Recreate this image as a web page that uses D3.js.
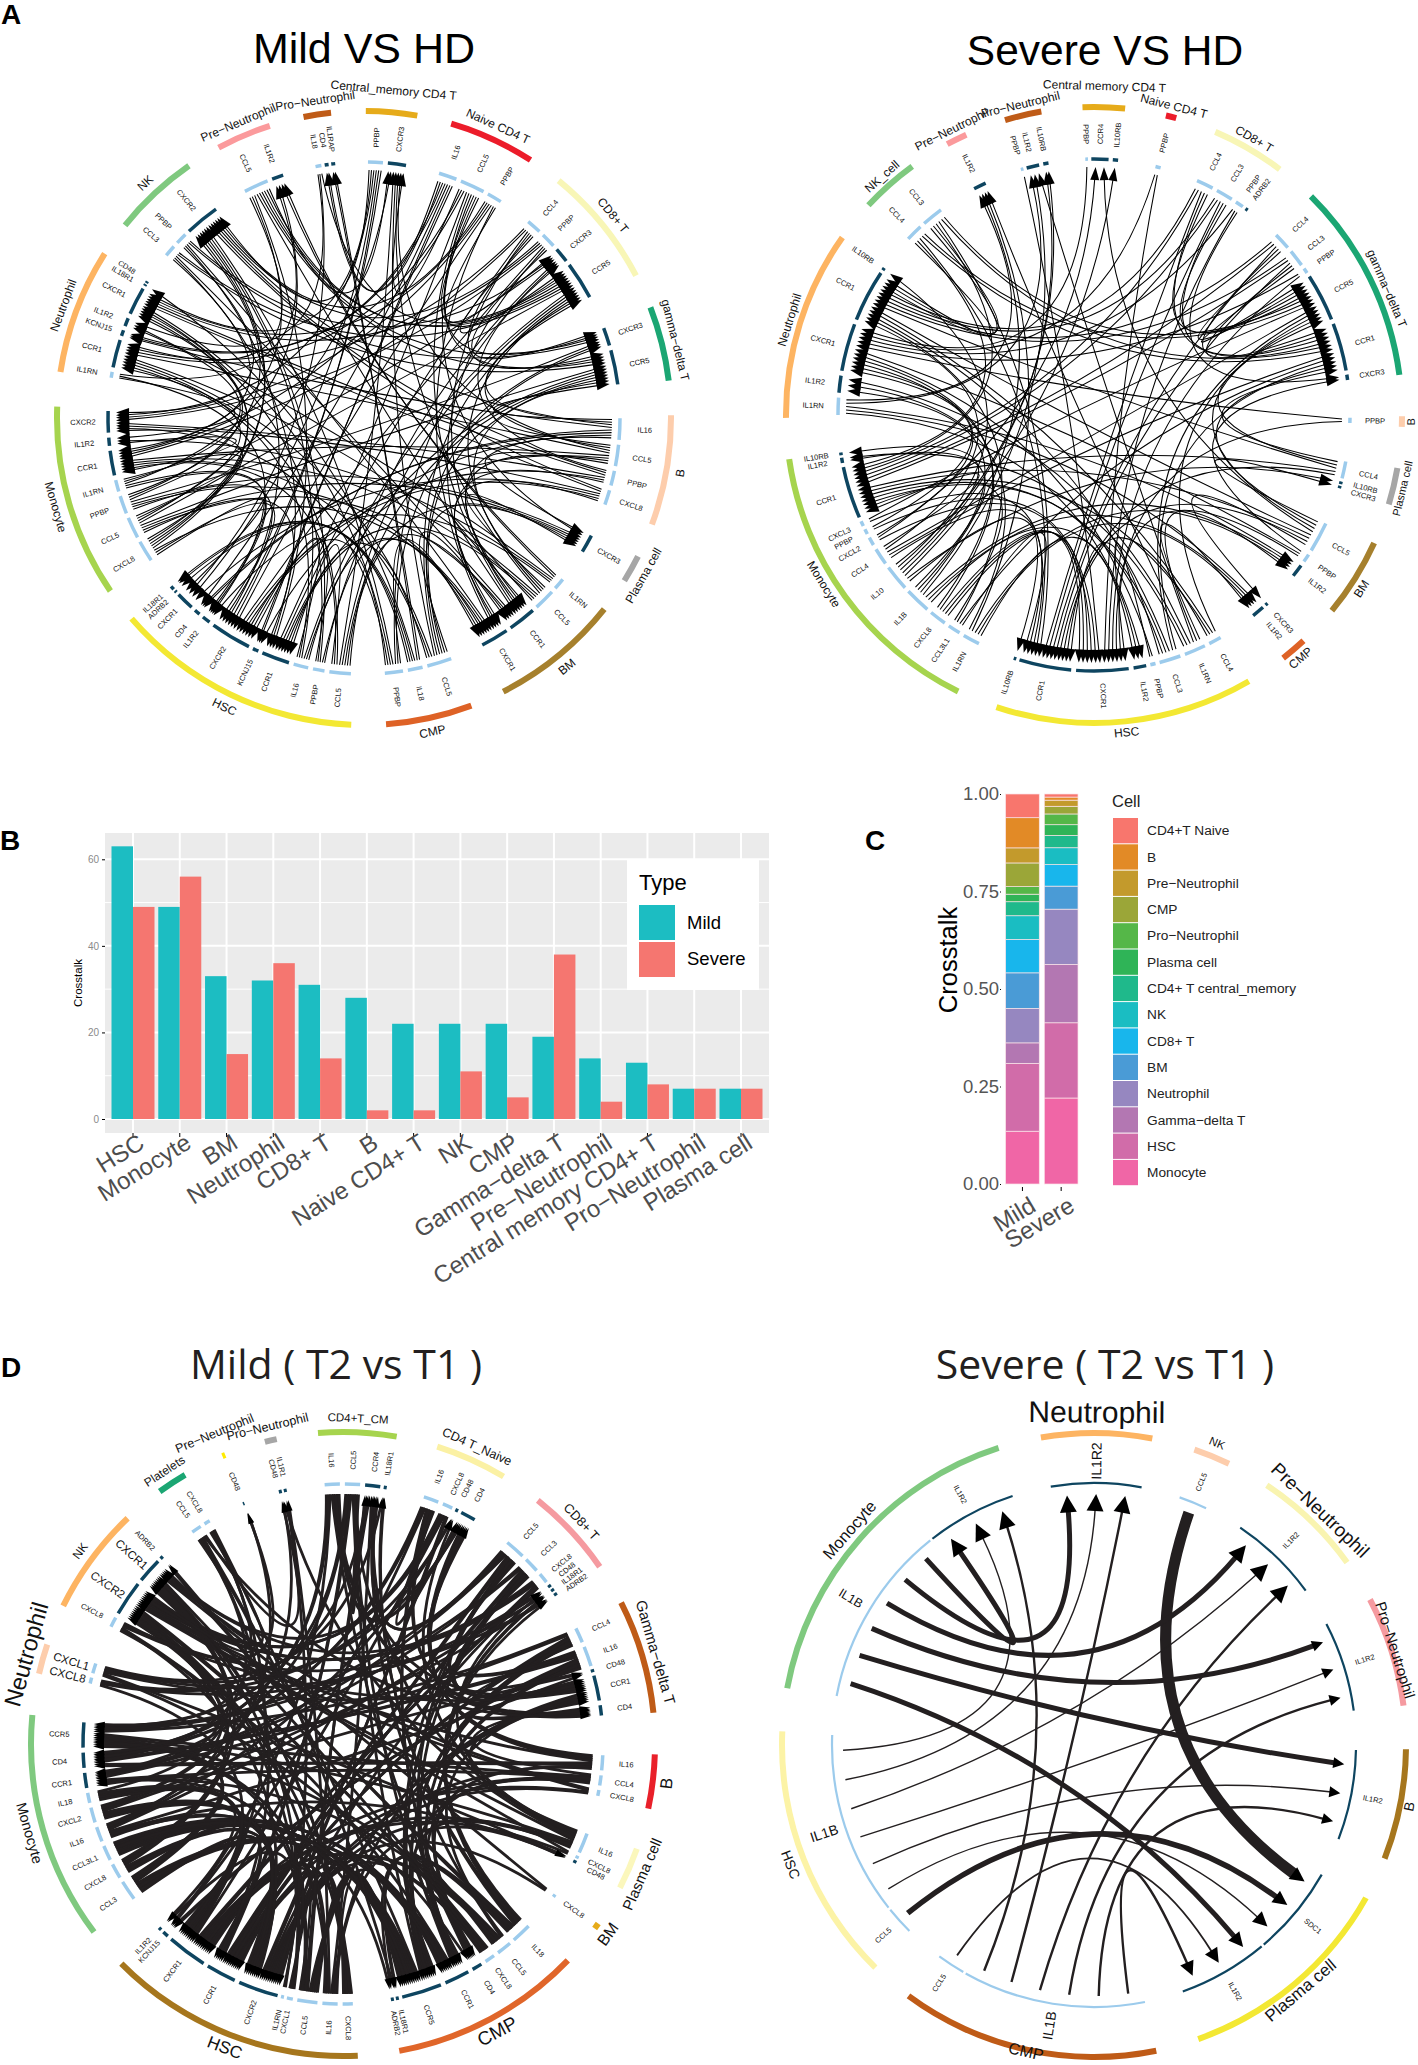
<!DOCTYPE html>
<html><head><meta charset="utf-8">
<script src="https://cdn.jsdelivr.net/npm/d3@7/dist/d3.min.js"></script>
<style>html,body{margin:0;padding:0;background:#fff}svg{display:block}text{font-family:"Liberation Sans",Arial,sans-serif}</style>
</head><body><svg id="fig" width="1418" height="2065"></svg>
<script>
// ---------- panels B and C ----------
const barCells = ["HSC","Monocyte","BM","Neutrophil","CD8+ T","B","Naive CD4+ T","NK","CMP","Gamma−delta T","Pre−Neutrophil","Central memory CD4+ T","Pro−Neutrophil","Plasma cell"];
const mildCrosstalk = [63,49,33,32,31,28,22,22,22,19,14,13,7,7];
const severeCrosstalk = [49,56,15,36,14,2,2,11,5,38,4,8,7,7];
const yTicksB = [0,20,40,60];
const stackCells = ["CD4+T Naive","B","Pre−Neutrophil","CMP","Pro−Neutrophil","Plasma cell","CD4+ T central_memory","NK","CD8+ T","BM","Neutrophil","Gamma−delta T","HSC","Monocyte"];
const stackSource = ["Naive CD4+ T","B","Pre−Neutrophil","CMP","Pro−Neutrophil","Plasma cell","Central memory CD4+ T","NK","CD8+ T","BM","Neutrophil","Gamma−delta T","HSC","Monocyte"];
const stackColors = ["#F8766D","#E28A26","#C39A2C","#9BA638","#55B748","#2FB457","#1FB98B","#1ABDC2","#18B6EC","#4A9BD6","#9687C0","#B377B2","#D16CA9","#F066A6"];
const yTicksC = [0,0.25,0.5,0.75,1];

// ---------- chord diagrams: cells clockwise, genes clockwise with link counts ----------
const hdMildCells = ["Naive CD4 T","CD8+ T","gamma−delta T","B","Plasma cell","BM","CMP","HSC","Monocyte","Neutrophil","NK","Pre−Neutrophil","Pro−Neutrophil","Central_memory CD4 T"];
const hdMildColors = ["#EC1C2A","#F8F6B6","#1BA673","#FDCDAC","#A6A6A6","#A6802D","#DE6226","#F3E833","#A6D44E","#FDB462","#7FC97F","#FB9A9C","#BF5B17","#E6AB1A"];
const hdMildGenes = [
 [["IL16",7],["CCL5",9],["PPBP",6]],
 [["CCL4",6],["PPBP",6],["CXCR3",6],["CCR5",13]],
 [["CXCR3",7],["CCR5",12]],
 [["IL16",8],["CCL5",8],["PPBP",6],["CXCL8",6]],
 [["CXCR3",7]],
 [["IL1RN",5],["CCL5",8],["CCR1",10],["CXCR1",10]],
 [["CCL5",9],["IL18",6],["PPBP",7]],
 [["CCL5",8],["PPBP",5],["IL16",6],["CCR1",10],["KCNJ15",3],["CXCR2",14],["IL1R2",4],["CD4",3],["CXCR1",7],["ADRB2",1],["IL18R1",2]],
 [["CXCL8",8],["CCL5",8],["PPBP",7],["IL1RN",5],["CCR1",9],["IL1R2",4],["CXCR2",8]],
 [["IL1RN",3],["CCR1",10],["KCNJ15",3],["IL1R2",4],["CXCR1",10],["IL18R1",1],["CD48",1]],
 [["CCL3",5],["PPBP",5],["CXCR2",12]],
 [["CCL5",9],["IL1R2",5]],
 [["IL18",3],["CD4",2],["IL1RAP",2]],
 [["PPBP",6],["CXCR3",7]]
];
const hdSevereCells = ["Naive CD4 T","CD8+ T","gamma−delta T","B","Plasma cell","BM","CMP","HSC","Monocyte","Neutrophil","NK_cell","Pre−Neutrophil","Pro−Neutrophil","Central memory CD4 T"];
const hdSevereColors = hdMildColors;
const hdSevereGenes = [
 [["PPBP",2]],
 [["CCL4",5],["CCL3",5],["PPBP",3],["ADRB2",1]],
 [["CCL4",5],["CCL3",5],["PPBP",2],["CCR5",12],["CCR1",12],["CXCR3",2]],
 [["PPBP",2]],
 [["CCL4",5],["IL10RB",1],["CXCR3",1]],
 [["CCL5",8],["PPBP",3],["IL1R2",4]],
 [["CXCR3",1],["IL1R2",4]],
 [["CCL4",4],["IL1RN",6],["CCL3",6],["PPBP",2],["IL1R2",4],["CXCR1",13],["CCR1",13],["IL10RB",1]],
 [["IL1RN",5],["CCL3L1",4],["CXCL8",5],["IL1B",7],["IL10",7],["CCL4",5],["CXCL2",3],["PPBP",2],["CXCL3",2],["CCR1",13],["IL1R2",2],["IL10RB",1]],
 [["IL1RN",5],["IL1R2",5],["CXCR1",12],["CCR1",13],["IL10RB",1]],
 [["CCL4",5],["CCL3",6]],
 [["IL1R2",4]],
 [["PPBP",1],["IL1R2",4],["IL10RB",2]],
 [["PPBP",1],["CCR4",5],["IL10RB",2]]
];
const t2MildCells = ["CD4+T_CM","CD4 T_Naive","CD8+ T","Gamma−delta T","B","Plasma cell","BM","CMP","HSC","Monocyte","Neutrophil","NK","Platelets","Pre−Neutrophil","Pro−Neutrophil"];
const t2MildColors = ["#A6D44E","#FBF1A4","#F59AA0","#BF5B17","#E9202A","#FBF7BC","#E6AB1A","#E0662A","#A6761D","#7FC97F","#FDCDAC","#FDB462","#1BA673","#FFEB00","#A6A6A6"];
const t2MildGenes = [
 [["IL16",8],["CCL5",8],["CCR4",8],["IL18R1",2]],
 [["IL16",8],["CXCL8",6],["CD48",2],["CD4",8]],
 [["CCL5",10],["CCL3",8],["CXCL8",6],["CD48",2],["IL18R1",2],["ADRB2",2]],
 [["CCL4",8],["IL16",10],["CD48",2],["CCR1",12],["CD4",6]],
 [["IL16",8],["CCL4",6],["CXCL8",4]],
 [["IL16",10],["CXCL8",2],["CD48",2]],
 [["CXCL8",2]],
 [["IL18",10],["CCL5",8],["CXCL8",6],["CD4",6],["CCR1",12],["CCR5",18],["IL18R1",2],["ADRB2",2]],
 [["CXCL8",6],["IL16",8],["CCL5",10],["CXCL1",4],["IL1RN",2],["CXCR2",18],["CCR1",14],["CXCR1",18],["KCNJ15",4],["IL1R2",2]],
 [["CCL3",10],["CXCL8",8],["CCL3L1",8],["IL16",8],["CXCL2",8],["IL18",6],["CCR1",8],["CD4",8],["CCR5",12]],
 [["CXCL8",4],["CXCL1",6]],
 [["CXCL8",6],["CXCR2",16],["CXCR1",12],["ADRB2",2]],
 [["CCL5",6],["CXCL8",4]],
 [["CD48",1]],
 [["CD48",2],["IL1R1",2]]
];
const t2SevereCells = ["Neutrophil","NK","Pre−Neutrophil","Pro−Neutrophil","B","Plasma cell","CMP","HSC","Monocyte"];
const t2SevereColors = ["#FDB462","#FDCDAC","#F9F4B0","#F59AA0","#A6761D","#F3E833","#BF5B17","#FCF3A6","#7FC97F"];
const t2SevereGenes = [
 [["IL1R2",3]],
 [["CCL5",1]],
 [["IL1R2",3]],
 [["IL1R2",3]],
 [["IL1R2",3]],
 [["SDC1",3],["IL1R2",3]],
 [["IL1B",6],["CCL5",1]],
 [["CCL5",1],["IL1B",6]],
 [["IL1B",6],["IL1R2",3]]
];
// ligand cell, ligand gene, slot -> receptor cell, receptor gene, slot, link strength
const t2SevereLinks = [
 ["NK","CCL5",0,"Plasma cell","SDC1",0,11],
 ["Monocyte","IL1B",0,"Plasma cell","IL1R2",0,5],
 ["Monocyte","IL1B",1,"B","IL1R2",0,5],
 ["Monocyte","IL1B",2,"Pro−Neutrophil","IL1R2",0,5],
 ["Monocyte","IL1B",3,"Pre−Neutrophil","IL1R2",0,5],
 ["Monocyte","IL1B",4,"Neutrophil","IL1R2",0,5],
 ["Monocyte","IL1B",5,"Monocyte","IL1R2",0,5],
 ["HSC","CCL5",0,"Plasma cell","SDC1",1,5.5],
 ["HSC","IL1B",0,"Plasma cell","SDC1",2,1.4],
 ["HSC","IL1B",1,"B","IL1R2",1,1.4],
 ["HSC","IL1B",2,"Pro−Neutrophil","IL1R2",1,1.4],
 ["HSC","IL1B",3,"Pre−Neutrophil","IL1R2",1,1.4],
 ["HSC","IL1B",4,"Neutrophil","IL1R2",1,1.4],
 ["HSC","IL1B",5,"Monocyte","IL1R2",1,1.4],
 ["CMP","CCL5",0,"Plasma cell","IL1R2",1,1.8],
 ["CMP","IL1B",0,"Plasma cell","IL1R2",2,2.4],
 ["CMP","IL1B",1,"B","IL1R2",2,2.4],
 ["CMP","IL1B",2,"Pro−Neutrophil","IL1R2",2,2.4],
 ["CMP","IL1B",3,"Pre−Neutrophil","IL1R2",2,2.4],
 ["CMP","IL1B",4,"Neutrophil","IL1R2",2,2.4],
 ["CMP","IL1B",5,"Monocyte","IL1R2",2,2.4]
];
const receptorGenes = ["CXCR1","CXCR2","CXCR3","CCR1","CCR4","CCR5","IL1R1","IL1R2","IL1RAP","IL10RB","IL18R1","CD4","CD48","ADRB2","KCNJ15","SDC1"];
// which receptor each ligand signals through, used to pair up the link ends of the dense panels
const ligandReceptors = {
 CCL5:["CCR1","CCR5","CCR4","CXCR3"],CCL3:["CCR1","CCR5"],CCL3L1:["CCR1","CCR5"],CCL4:["CCR1","CCR5"],
 PPBP:["CXCR1","CXCR2","CXCR3"],CXCL8:["CXCR1","CXCR2"],CXCL1:["CXCR1","CXCR2"],CXCL2:["CXCR2"],CXCL3:["CXCR2"],
 IL16:["CD4","KCNJ15"],IL18:["IL18R1","IL1RAP","ADRB2"],IL1RN:["IL1R2","IL1R1"],IL1B:["IL1R2","IL1RAP"],IL10:["IL10RB"]
};

const svg = d3.select("#fig");
const DARK="#231F20", LIGAND="#9CCBEC", RECEPTOR="#0E4560";
const rad = a => a*Math.PI/180;

function chord(o){
  const g = svg.append("g").attr("transform",`translate(${o.cx},${o.cy})`);
  const pt = (a,r)=>[r*Math.sin(rad(a)),-r*Math.cos(rad(a))];
  const total = d3.sum(o.genes,s=>d3.sum(s,x=>x[1]));
  const k = (360-o.gap*o.cells.length)/total;
  let cursor = o.start, cellsOut=[], ends=[];
  o.cells.forEach((name,i)=>{
    const count=d3.sum(o.genes[i],x=>x[1]);
    const a0=cursor,a1=cursor+count*k;
    const sc=d3.scaleLinear().domain([0,count]).range([a0,a1]);
    let c=0;
    const gs=o.genes[i].map(([gene,n])=>{
      const half=Math.min(o.geneGap/2,n*k*0.2);
      const rec={cell:name,cellIdx:i,gene,n,a0:sc(c)+half,a1:sc(c+n)-half,isRec:receptorGenes.includes(gene),links:[]};
      rec.labelAngle=(rec.a0+rec.a1)/2;
      c+=n;ends.push(rec);return rec;
    });
    // keep the gene names of one cell from printing on top of each other
    const minSep=(o.labelSep||8)/o.rGeneLabel*180/Math.PI;
    for(let it=0;it<30;it++){
      for(let j=0;j+1<gs.length;j++){
        const d=gs[j+1].labelAngle-gs[j].labelAngle;
        if(d<minSep){gs[j].labelAngle-=(minSep-d)/2;gs[j+1].labelAngle+=(minSep-d)/2;}
      }
    }
    cellsOut.push({name,a0,a1,color:o.colors[i],gs});
    cursor=a1+o.gap;
  });
  // tracks
  const arc=(r,w)=>d3.arc().innerRadius(r-w/2).outerRadius(r+w/2);
  g.selectAll("path.cell").data(cellsOut).join("path").attr("class","cell")
    .attr("d",d=>arc(o.rCell,o.wCell)({startAngle:rad(d.a0),endAngle:rad(d.a1)})).attr("fill",d=>d.color);
  g.selectAll("path.gene").data(ends).join("path").attr("class","gene")
    .attr("d",d=>arc(o.rGene,o.wGene)({startAngle:rad(d.a0),endAngle:rad(d.a1)})).attr("fill",d=>d.isRec?RECEPTOR:LIGAND);
  // link list
  let links=[];
  if(o.links){
    o.links.forEach(l=>{
      const a=ends.find(e=>e.cell===l[0]&&e.gene===l[1]);
      const b=ends.find(e=>e.cell===l[3]&&e.gene===l[4]);
      links.push({a,b,sa:l[2],sb:l[5],w:l[6]});
    });
    links.forEach(l=>{l.aAngle=l.a.a0+(l.sa+.5)/l.a.n*(l.a.a1-l.a.a0);l.bAngle=l.b.a0+(l.sb+.5)/l.b.n*(l.b.a1-l.b.a0);});
  } else {
    const recs=ends.filter(e=>e.isRec).map(e=>({e,left:e.n}));
    ends.filter(e=>!e.isRec).forEach(lig=>{
      const usedGene=new Map(),usedCell=new Map();
      for(let i=0;i<lig.n;i++){
        const allowed=ligandReceptors[lig.gene]||[];
        let pool=recs.filter(r=>allowed.includes(r.e.gene)&&r.left>0);
        if(!pool.length) pool=recs.filter(r=>r.left>0);
        if(!pool.length) pool=recs;
        const best=d3.greatest(pool,r=>r.left-(usedGene.get(r)||0)*100-(usedCell.get(r.e.cell)||0)*10-(r.e.cellIdx===lig.cellIdx?5:0));
        best.left--;
        usedGene.set(best,(usedGene.get(best)||0)+1);
        usedCell.set(best.e.cell,(usedCell.get(best.e.cell)||0)+1);
        const l={a:lig,b:best.e,w:o.linkWidth};
        lig.links.push(l);best.e.links.push(l);links.push(l);
      }
    });
    // spread ends over each gene arc, ordered so links of one gene do not cross at the rim
    ends.forEach(e=>{
      const mid=(e.a0+e.a1)/2;
      const partner=l=>{const p=(l.a===e?l.b:l.a);return ((p.a0+p.a1)/2-mid+360)%360;};
      const sorted=e.links.slice().sort((x,y)=>partner(y)-partner(x));
      sorted.forEach((l,i)=>{const ang=e.a0+(i+.5)/sorted.length*(e.a1-e.a0);if(l.a===e)l.aAngle=ang;else l.bAngle=ang;});
    });
  }
  const linkG=g.append("g");
  const cr=o.rLink*o.bend;
  links.forEach(l=>{
    const from=pt(l.aAngle,o.rLink), to=pt(l.bAngle,o.rLink);
    let diff=((l.bAngle-l.aAngle+540)%360)-180;
    const c=pt(l.aAngle+diff/2,cr);
    const dx=to[0]-c[0],dy=to[1]-c[1],len=Math.hypot(dx,dy),ux=dx/len,uy=dy/len;
    const sc=(o.arrowBy&&o.arrowBy[l.b.cell])||1;
    const L=o.arrowLen*sc,W=o.arrowWidth*sc;
    const bx=to[0]-ux*L*0.8,by=to[1]-uy*L*0.8;
    const p=d3.path();p.moveTo(from[0],from[1]);p.quadraticCurveTo(c[0],c[1],bx,by);
    linkG.append("path").attr("d",p.toString()).attr("fill","none").attr("stroke",o.linkColor).attr("stroke-width",l.w);
    const tx=to[0]-ux*L,ty=to[1]-uy*L;
    linkG.append("polygon").attr("fill","#000")
      .attr("points",[[to[0],to[1]],[tx-uy*W/2,ty+ux*W/2],[tx+uy*W/2,ty-ux*W/2]].map(q=>q.join(",")).join(" "));
  });
  // labels
  g.selectAll("text.gene").data(ends).join("text").attr("class","gene")
    .text(d=>d.gene).attr("text-anchor","middle").attr("dominant-baseline","central").attr("fill","#111")
    .attr("font-size",d=>(o.geneSize&&o.geneSize[d.cell+"|"+d.gene])||o.geneFont)
    .attr("transform",d=>{
      const a=d.labelAngle,n=((a%360)+360)%360,[x,y]=pt(a,o.rGeneLabel);
      return `translate(${x},${y}) rotate(${n<180?a-90:a+90})`;
    });
  g.selectAll("text.cell").data(cellsOut).join("text").attr("class","cell")
    .text(d=>d.name).attr("text-anchor","middle").attr("dominant-baseline","central").attr("fill","#111")
    .attr("font-size",d=>(o.cellSize&&o.cellSize[d.name])||o.cellFont)
    .attr("transform",d=>{
      const a=(d.a0+d.a1)/2+((o.cellShift&&o.cellShift[d.name])||0),n=((a%360)+360)%360;
      const r=(o.cellR&&o.cellR[d.name])||o.rCellLabel,[x,y]=pt(a,r);
      return `translate(${x},${y}) rotate(${(n>90&&n<270)?n-180:n})`;
    });
}

chord({cx:364,cy:418,start:16.5,gap:6.5,geneGap:1.1,cells:hdMildCells,colors:hdMildColors,genes:hdMildGenes,
  rCell:307,wCell:6,rGene:256,wGene:3.5,rLink:248,rGeneLabel:281,rCellLabel:321,bend:.07,linkWidth:1.05,linkColor:"#000",
  arrowLen:13,arrowWidth:9,geneFont:7.5,cellFont:12,cellR:{"Central_memory CD4 T":329}});
chord({cx:1094,cy:415,start:13.5,gap:7.7,geneGap:1.1,cells:hdSevereCells,colors:hdSevereColors,genes:hdSevereGenes,
  rCell:308,wCell:6,rGene:256,wGene:3.5,rLink:248,rGeneLabel:281,rCellLabel:319,bend:.07,linkWidth:1.05,linkColor:"#000",
  arrowLen:13,arrowWidth:9,geneFont:7.5,cellFont:12,cellSize:{"Plasma cell":11,"B":11},cellR:{"Central memory CD4 T":329,"B":317,"Plasma cell":317},cellShift:{"Monocyte":4,"gamma−delta T":3,"BM":1}});
chord({cx:343,cy:1744,start:-4.6,gap:7.67,geneGap:1.1,cells:t2MildCells,colors:t2MildColors,genes:t2MildGenes,
  rCell:312,wCell:6,rGene:260,wGene:3.5,rLink:250,rGeneLabel:284,rCellLabel:326,bend:.07,linkWidth:2.8,linkColor:DARK,
  arrowLen:11,arrowWidth:5.5,geneFont:7.5,cellFont:13,
  cellSize:{"Neutrophil":23.5,"HSC":17,"CMP":19,"Monocyte":14.5,"Gamma−delta T":15,"B":17,"Plasma cell":15,"BM":16,"CD4+T_CM":11.5,"CD4 T_Naive":12.5,"Pre−Neutrophil":12.5,"Pro−Neutrophil":12.5,"Platelets":12,"NK":12},
  cellR:{"Neutrophil":329,"Pre−Neutrophil":336},
  geneSize:{"Neutrophil|CXCL1":11.5,"Neutrophil|CXCL8":11.5,"NK|CXCR1":11.5,"NK|CXCR2":11.5}});
chord({cx:1094,cy:1745,start:-9.8,gap:8,geneGap:.6,cells:t2SevereCells,colors:t2SevereColors,genes:t2SevereGenes,links:t2SevereLinks,
  rCell:312,wCell:6,rGene:262,wGene:2.2,rLink:251,rGeneLabel:284,rCellLabel:326,bend:.07,linkColor:DARK,
  arrowLen:17,arrowWidth:17,arrowBy:{"Pro−Neutrophil":.65,"B":.65,"Plasma cell":.85},geneFont:7.5,cellFont:16,
  cellSize:{"Neutrophil":30,"NK":11.5,"Pre−Neutrophil":19,"Pro−Neutrophil":15,"B":14,"Plasma cell":17,"CMP":16,"HSC":14,"Monocyte":16.5},
  cellR:{"Neutrophil":333,"Pro−Neutrophil":316,"B":321,"Plasma cell":321,"CMP":314},
  geneSize:{"Neutrophil|IL1R2":14,"Monocyte|IL1B":12.5,"HSC|IL1B":14,"CMP|IL1B":14}});

// titles & panel letters
const txt=(x,y,s,size,attrs={})=>{const t=svg.append("text").attr("x",x).attr("y",y).attr("font-size",size).attr("fill","#000").text(s);Object.entries(attrs).forEach(([a,b])=>t.attr(a,b));return t;};
txt(1,24,"A",28,{"font-weight":"bold"});
txt(0,850,"B",28,{"font-weight":"bold"});
txt(865,850,"C",28,{"font-weight":"bold"});
txt(1,1377,"D",28,{"font-weight":"bold"});
txt(364,63,"Mild VS HD",43,{"text-anchor":"middle"});
txt(1105,65,"Severe VS HD",42.5,{"text-anchor":"middle"});
const sans='"Open Sans",sans-serif';
txt(336,1379,"Mild ( T2 vs T1 )",41,{"text-anchor":"middle",fill:DARK}).style("font-family",sans);
txt(1105,1379,"Severe ( T2 vs T1 )",41,{"text-anchor":"middle",fill:DARK}).style("font-family",sans);

// panel B
(function(){
  const L=105,R=769,T=833,B=1133;
  const step=(741-133)/13;
  const x=d3.scaleBand().domain(barCells).range([133-21.5,741+21.5]).paddingInner(1-43/step).paddingOuter(0);
  const y=d3.scaleLinear().domain([0,60]).range([1119,859.3]);
  const g=svg.append("g");
  g.append("rect").attr("x",L).attr("y",T).attr("width",R-L).attr("height",B-T).attr("fill","#EBEBEB");
  [10,30,50].forEach(v=>g.append("line").attr("x1",L).attr("x2",R).attr("y1",y(v)).attr("y2",y(v)).attr("stroke","#fff").attr("stroke-width",1));
  yTicksB.forEach(v=>g.append("line").attr("x1",L).attr("x2",R).attr("y1",y(v)).attr("y2",y(v)).attr("stroke","#fff").attr("stroke-width",2));
  barCells.forEach(c=>{const cx=x(c)+x.bandwidth()/2;g.append("line").attr("x1",cx).attr("x2",cx).attr("y1",T).attr("y2",B).attr("stroke","#fff").attr("stroke-width",2);});
  const bw=x.bandwidth()/2;
  g.selectAll("rect.m").data(barCells).join("rect").attr("class","m").attr("x",c=>x(c)).attr("width",bw)
    .attr("y",(c,i)=>y(mildCrosstalk[i])).attr("height",(c,i)=>y(0)-y(mildCrosstalk[i])).attr("fill","#1CBDC2");
  g.selectAll("rect.s").data(barCells).join("rect").attr("class","s").attr("x",c=>x(c)+bw).attr("width",bw)
    .attr("y",(c,i)=>y(severeCrosstalk[i])).attr("height",(c,i)=>y(0)-y(severeCrosstalk[i])).attr("fill","#F57670");
  const ax=g.append("g").attr("transform",`translate(${L},0)`).call(d3.axisLeft(y).tickValues(yTicksB).tickSize(3).tickSizeOuter(0));
  ax.select(".domain").remove();
  ax.selectAll("text").attr("font-size",10).attr("fill","#8a8a8a").style("font-family",'"Liberation Sans"');
  const bx=g.append("g").attr("transform",`translate(0,${B})`).call(d3.axisBottom(x).tickSize(4).tickSizeOuter(0));
  bx.select(".domain").remove();
  bx.selectAll("text").attr("font-size",24).attr("fill","#4D4D4D").attr("text-anchor","end").attr("dx",0).attr("dy",0).attr("y",0)
    .attr("transform","translate(13,14) rotate(-32)").style("font-family",'"Liberation Sans"');
  txt(0,0,"Crosstalk",11.5,{"text-anchor":"middle",transform:"translate(82,983) rotate(-90)"});
  g.append("rect").attr("x",627).attr("y",860).attr("width",132).attr("height",130).attr("fill","#fff");
  txt(639,890,"Type",22);
  g.append("rect").attr("x",639).attr("y",905).attr("width",36).attr("height",35).attr("fill","#1CBDC2");
  g.append("rect").attr("x",639).attr("y",942).attr("width",36).attr("height",35).attr("fill","#F57670");
  txt(687,929,"Mild",18.5);
  txt(687,965,"Severe",18.5);
})();

// panel C
(function(){
  const rows=["Mild","Severe"];
  const val=(row,cell)=>{const i=barCells.indexOf(cell);return row==="Mild"?mildCrosstalk[i]:severeCrosstalk[i];};
  const table=rows.map(r=>{const o={row:r};stackCells.forEach((c,i)=>o[c]=val(r,stackSource[i]));return o;});
  const keys=stackCells.slice().reverse();
  const series=d3.stack().keys(keys).offset(d3.stackOffsetExpand)(table);
  const x=d3.scaleBand().domain(rows).range([1005.6,1078]).paddingInner(.13).paddingOuter(0);
  const y=d3.scaleLinear().domain([0,1]).range([1184,794]);
  const color=d3.scaleOrdinal().domain(stackCells).range(stackColors);
  const g=svg.append("g");
  series.forEach(s=>{
    g.selectAll(null).data(s).join("rect").attr("x",d=>x(d.data.row)).attr("width",x.bandwidth())
      .attr("y",d=>y(d[1])).attr("height",d=>y(d[0])-y(d[1])).attr("fill",color(s.key)).attr("stroke","#fbe3e8").attr("stroke-width",.7);
  });
  const ay=g.append("g").attr("transform","translate(1001,0)").call(d3.axisLeft(y).tickValues(yTicksC).tickFormat(d3.format(".2f")).tickSize(1).tickSizeOuter(0));
  ay.select(".domain").remove();
  ay.selectAll("text").attr("font-size",18.5).attr("fill","#555").style("font-family",'"Liberation Sans"').attr("x",-2);
  const ax=g.append("g").attr("transform","translate(0,1187)").call(d3.axisBottom(x).tickSize(4).tickSizeOuter(0));
  ax.select(".domain").remove();
  ax.selectAll("text").attr("font-size",24).attr("fill","#4D4D4D").attr("text-anchor","end").attr("y",0).attr("dy",0)
    .attr("transform","translate(15,23) rotate(-31)").style("font-family",'"Liberation Sans"');
  txt(0,0,"Crosstalk",25.5,{"text-anchor":"middle",transform:"translate(957,960) rotate(-90)"});
  txt(1112,807,"Cell",16.5,{fill:"#222"});
  const ly=d3.scaleBand().domain(stackCells).range([818,818+26.3*14]);
  stackCells.forEach(c=>{
    g.append("rect").attr("x",1113).attr("y",ly(c)).attr("width",25).attr("height",25.3).attr("fill",color(c));
    txt(1147,ly(c)+12.7,c,13.7,{"dominant-baseline":"central",fill:"#222"});
  });
})();
</script></body></html>
